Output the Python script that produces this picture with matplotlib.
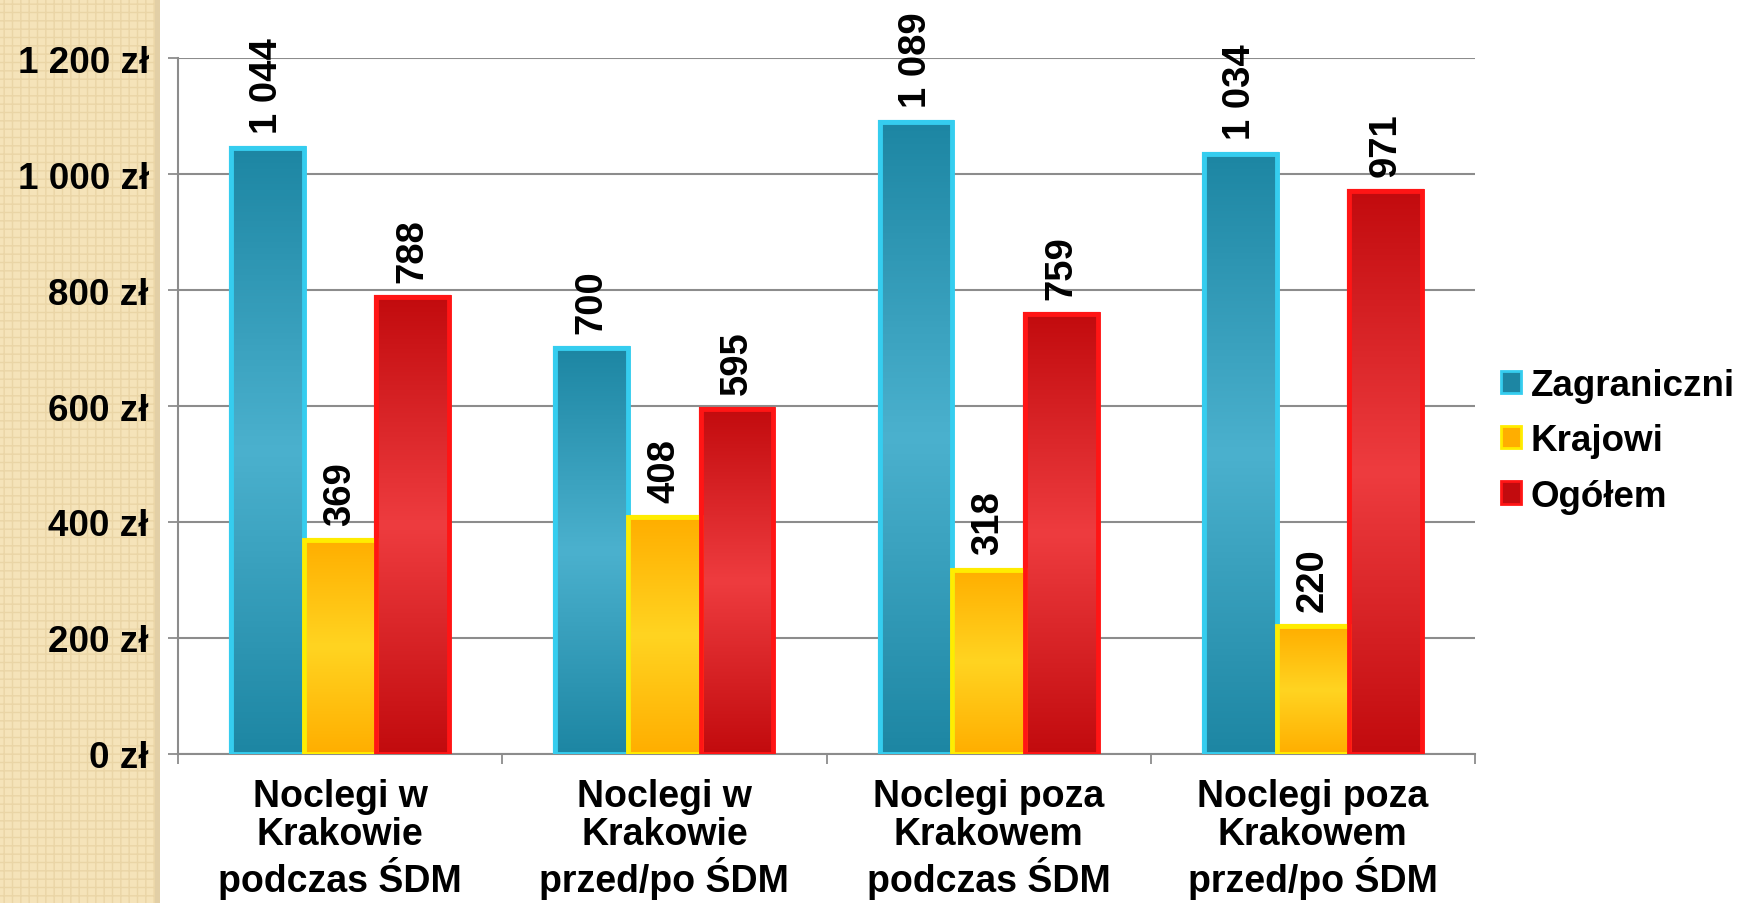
import numpy as np
import matplotlib
matplotlib.use("Agg")
import matplotlib.pyplot as plt
from matplotlib.colors import LinearSegmentedColormap
from matplotlib.patches import Rectangle

# DATA
categories = ["Noclegi w\nKrakowie\npodczas ŚDM", "Noclegi w\nKrakowie\nprzed/po ŚDM",
              "Noclegi poza\nKrakowem\npodczas ŚDM", "Noclegi poza\nKrakowem\nprzed/po ŚDM"]
series = ["Zagraniczni", "Krajowi", "Ogółem"]
zagraniczni = [1044, 700, 1089, 1034]
krajowi = [369, 408, 318, 220]
ogolem = [788, 595, 759, 971]
yticks = [0, 200, 400, 600, 800, 1000, 1200]

values = [zagraniczni, krajowi, ogolem]
# (dark, light, edge) per series
styles = [("#1d86a3", "#4bb1ce", "#35cdef"),
          ("#ffae00", "#ffd421", "#ffec00"),
          ("#c20b0e", "#ee3c3f", "#ff1515")]

plt.rcParams['font.family'] = ['Liberation Sans', 'DejaVu Sans']
plt.rcParams['font.weight'] = 'bold'

fig = plt.figure(figsize=(17.41, 9.04), dpi=100)

# beige strip on the left (behind the axes)
strip = Rectangle((0, 0), 155 / 1741, 1, transform=fig.transFigure,
                  facecolor="#f5e3b9", edgecolor="#ead5a6", hatch="++", linewidth=0, zorder=-2)
fig.patches.append(strip)
shadow = Rectangle((155 / 1741, 0), 5 / 1741, 1, transform=fig.transFigure,
                   facecolor="#e2cfa6", linewidth=0, zorder=-2)
fig.patches.append(shadow)

ax = fig.add_axes([178 / 1741, 1 - 755 / 904, (1475 - 178) / 1741, (755 - 59) / 904])
ax.set_facecolor("none")

x = np.arange(len(categories))
w = 0.224
grad = np.abs(np.linspace(-1, 1, 200))[:, None]

for i, (name, vals) in enumerate(zip(series, values)):
    dark, light, edge = styles[i]
    cmap = LinearSegmentedColormap.from_list(name, [light, dark])
    bars = ax.bar(x + (i - 1) * w, vals, w, color=dark, edgecolor=edge,
                  linewidth=3, label=name, zorder=3)
    for b, v in zip(bars, vals):
        x0 = b.get_x()
        im = ax.imshow(grad, cmap=cmap, extent=[x0, x0 + w, 0, v], aspect='auto',
                       zorder=3.5, vmin=0, vmax=1)
        im.set_clip_path(b)
        outline = Rectangle((x0, 0), w, v, fill=False, edgecolor=edge, linewidth=3.5, zorder=4)
        ax.add_patch(outline)
        ax.text(x0 + w / 2, v + 26, f"{v:,}".replace(",", " "), rotation=90,
                ha='center', va='bottom', fontsize=27.5, fontweight='bold', zorder=5)

ax.set_xlim(-0.5, 3.5)
ax.set_ylim(0, 1200)
ax.set_yticks(yticks)
ax.set_yticklabels([f"{t:,} zł".replace(",", " ") for t in yticks], fontsize=26.5, fontweight='bold')
ax.grid(axis='y', color='#8c8c8c', linewidth=1.5, zorder=1)
ax.tick_params(axis='y', length=7, width=1.3, color='#8c8c8c', pad=14)

ax.set_xticks(x)
ax.set_xticklabels(categories, fontsize=27, fontweight='bold', linespacing=1.1)
ax.set_xticks(np.arange(-0.5, 4, 1), minor=True)
ax.tick_params(axis='x', which='major', length=0, pad=17)
ax.tick_params(axis='x', which='minor', length=7, width=1.3, color='#8c8c8c')

for s in ['top', 'right']:
    ax.spines[s].set_visible(False)
for s in ['left', 'bottom']:
    ax.spines[s].set_color('#8c8c8c')
    ax.spines[s].set_linewidth(1.5)

leg = ax.legend(loc='center left', bbox_to_anchor=(1.006, 0.45), frameon=False, borderpad=0,
                prop={'size': 26.5, 'weight': 'bold'}, handlelength=0.55, handleheight=0.55,
                handletextpad=0.25, labelspacing=0.55)
for h in leg.legend_handles:
    h.set_linewidth(2)

fig.savefig("out.png", dpi=100)
